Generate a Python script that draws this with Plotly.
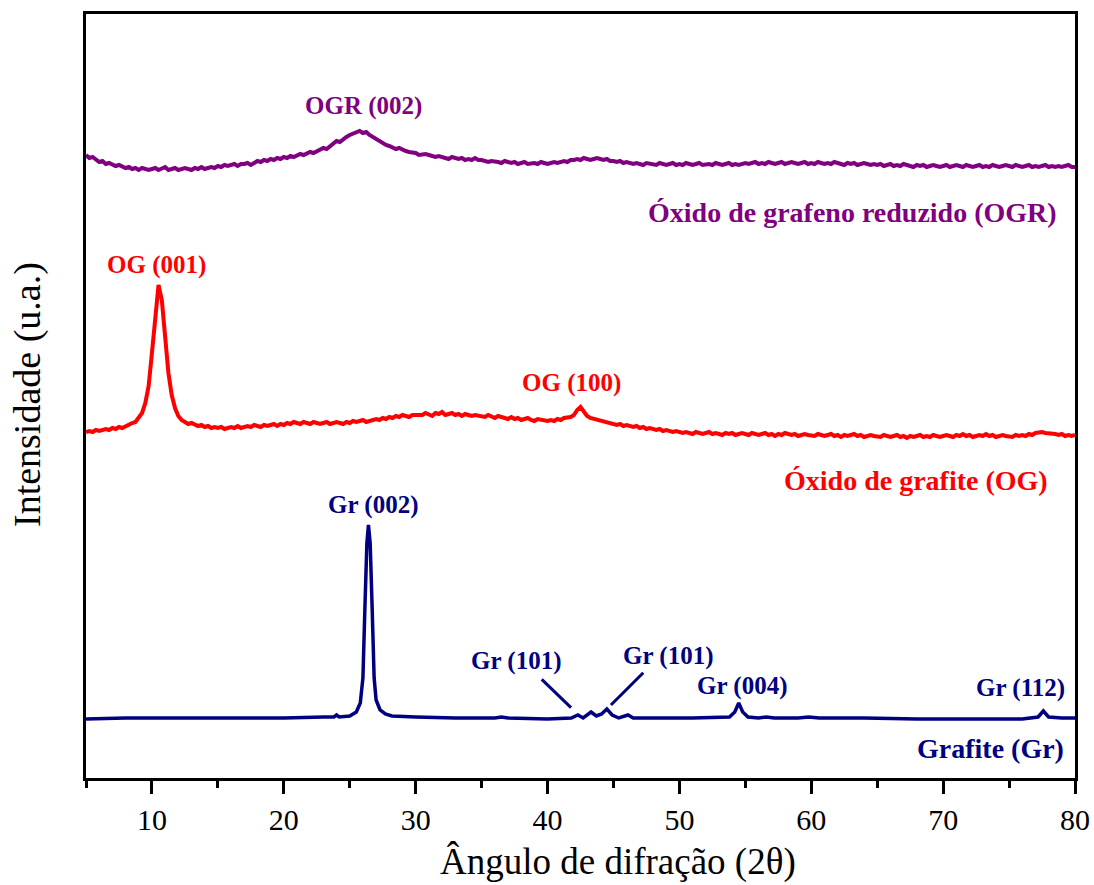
import numpy as np
import plotly.graph_objects as go

# 2θ sampling for the two oxide scans (0.25° steps, 5°–80°)
angle_grid = np.linspace(5, 80, 301)

# Reduced graphene oxide (OGR), offset intensities
ogr_intensity = [
    623, 620, 621, 618, 616, 617, 614, 615, 613, 612, 613, 611, 610, 611, 609, 610, 608, 610, 609, 608,
    609, 610, 608, 609, 611, 608, 609, 610, 608, 609, 610, 609, 608, 610, 609, 611, 609, 610, 611, 610,
    612, 611, 613, 612, 613, 614, 612, 614, 614, 615, 613, 615, 617, 616, 618, 617, 619, 618, 620, 619,
    621, 620, 622, 621, 623, 624, 623, 625, 626, 625, 627, 628, 630, 629, 632, 634, 637, 636, 639, 641,
    643, 644, 645, 647, 645, 646, 643, 641, 638, 637, 634, 633, 632, 630, 629, 630, 628, 627, 626, 626,
    625, 623, 624, 624, 623, 622, 621, 622, 621, 620, 619, 621, 620, 619, 620, 618, 619, 618, 620, 618,
    618, 617, 616, 617, 617, 616, 615, 617, 616, 615, 616, 614, 615, 616, 614, 615, 615, 614, 616, 615,
    614, 615, 616, 615, 616, 617, 616, 618, 618, 619, 618, 620, 619, 618, 619, 620, 619, 618, 619, 617,
    617, 616, 617, 615, 616, 615, 614, 615, 614, 613, 615, 614, 614, 613, 615, 614, 613, 614, 615, 613,
    614, 613, 615, 614, 613, 614, 615, 613, 614, 614, 613, 615, 614, 613, 614, 615, 613, 614, 613, 614,
    615, 614, 615, 616, 614, 615, 614, 616, 615, 614, 615, 616, 614, 615, 616, 615, 614, 615, 616, 614,
    615, 614, 616, 615, 614, 615, 614, 616, 615, 614, 613, 615, 614, 615, 613, 614, 615, 614, 613, 614,
    613, 614, 612, 613, 614, 612, 613, 612, 614, 613, 612, 611, 613, 612, 613, 611, 612, 613, 612, 611,
    612, 613, 611, 612, 613, 612, 611, 613, 612, 611, 612, 613, 611, 612, 611, 613, 612, 611, 612, 613,
    612, 611, 613, 612, 611, 612, 613, 611, 612, 611, 612, 613, 611, 612, 611, 612, 611, 612, 613, 611,
    611,
]

# Graphite oxide (OG), offset intensities
og_intensity = [
    346, 347, 346, 348, 347, 348, 349, 348, 350, 349, 351, 350, 352, 353, 355, 356, 360, 365, 375, 392,
    425, 462, 493, 478, 440, 405, 383, 370, 362, 358, 356, 354, 355, 353, 352, 353, 351, 352, 350, 351,
    350, 351, 349, 350, 351, 350, 352, 350, 351, 352, 351, 353, 352, 351, 353, 352, 353, 354, 352, 354,
    353, 355, 354, 356, 355, 354, 356, 355, 354, 356, 355, 354, 355, 356, 354, 355, 356, 355, 354, 356,
    355, 357, 356, 357, 358, 356, 357, 358, 359, 358, 360, 359, 361, 360, 362, 361, 363, 362, 361, 363,
    363, 364, 363, 365, 364, 362, 365, 364, 366, 363, 364, 365, 363, 364, 362, 364, 363, 362, 363, 362,
    362, 361, 363, 361, 360, 362, 361, 360, 359, 361, 359, 360, 358, 359, 360, 358, 357, 359, 358, 357,
    357, 358, 357, 359, 358, 360, 360, 361, 363, 368, 371, 366, 362, 360, 359, 358, 357, 356, 355, 355,
    354, 353, 354, 352, 353, 352, 351, 352, 350, 351, 349, 350, 349, 348, 349, 347, 348, 347, 346, 347,
    346, 345, 346, 345, 344, 346, 345, 344, 345, 346, 344, 345, 344, 343, 345, 344, 345, 343, 344, 345,
    344, 343, 345, 344, 343, 344, 345, 343, 344, 342, 344, 343, 345, 344, 343, 344, 342, 343, 344, 343,
    343, 342, 344, 343, 342, 343, 344, 342, 343, 341, 343, 342, 343, 344, 342, 343, 341, 342, 343, 342,
    342, 341, 343, 342, 341, 342, 343, 341, 342, 340, 342, 341, 342, 343, 341, 342, 341, 343, 342, 341,
    342, 343, 342, 341, 343, 342, 344, 342, 343, 341, 342, 343, 342, 344, 342, 343, 341, 342, 343, 342,
    342, 341, 343, 342, 343, 342, 344, 343, 345, 346, 346, 345, 345, 344, 344, 343, 344, 342, 343, 342,
    343,
]

# Graphite (Gr) scan
gr_angle = [
    5, 8, 12, 16, 20, 23, 23.8, 24.0, 24.2, 25.0, 25.5, 25.8, 26.0, 26.15, 26.3, 26.42, 26.55,
    26.7, 26.85, 27.0, 27.3, 27.7, 28.2, 30, 33, 36, 36.5, 37, 40, 41.8, 42.3, 42.7, 43.0, 43.3,
    43.7, 44.1, 44.5, 44.9, 45.4, 45.8, 46.1, 46.5, 48, 51, 53.8, 54.2, 54.5, 54.8, 55.2, 56,
    56.6, 57.2, 59, 59.8, 60.6, 64, 68, 72, 76, 77.2, 77.6, 78.0, 79, 80,
]
gr_intensity = [
    59, 60, 60, 60, 60, 61, 61, 63, 61, 62, 66, 75, 100, 170, 235, 253, 235,
    170, 100, 78, 68, 64, 62, 61, 60, 60, 61, 60, 59, 60, 63, 60, 63, 66,
    62, 64, 69, 63, 60, 62, 63, 60, 60, 60, 61, 66, 75, 66, 61, 60,
    61, 60, 60, 61, 60, 60, 59, 59, 59, 61, 67, 61, 60, 60,
]

# Peak and series labels: (text, 2θ, intensity, colour, size)
PURPLE, RED, NAVY = "#800080", "#FF0000", "#000080"
labels = [
    ("OGR (002)", 26.08, 672, PURPLE, 25),
    ("Óxido de grafeno reduzido (OGR)", 63.16, 566, PURPLE, 28),
    ("OG (001)", 10.31, 513, RED, 25),
    ("OG (100)", 41.85, 395, RED, 25),
    ("Óxido de grafite (OG)", 67.94, 298, RED, 28),
    ("Gr (002)", 26.77, 273, NAVY, 25),
    ("Gr (101)", 37.68, 117, NAVY, 25),
    ("Gr (101)", 49.21, 122, NAVY, 25),
    ("Gr (004)", 54.78, 92, NAVY, 25),
    ("Gr (112)", 75.9, 90, NAVY, 25),
    ("Grafite (Gr)", 73.59, 30, NAVY, 28),
]

# Leader lines pointing at the (101) reflections
leaders = [
    (39.56, 98.7, 41.78, 70.3),
    (47.26, 105.3, 44.81, 73.0),
]

fig = go.Figure()
fig.add_trace(go.Scatter(x=gr_angle, y=gr_intensity, mode="lines",
                         line=dict(color=NAVY, width=3.5), showlegend=False))
fig.add_trace(go.Scatter(x=angle_grid, y=og_intensity, mode="lines",
                         line=dict(color=RED, width=4), showlegend=False))
fig.add_trace(go.Scatter(x=angle_grid, y=ogr_intensity, mode="lines",
                         line=dict(color=PURPLE, width=4), showlegend=False))

for text, x, y, color, size in labels:
    fig.add_annotation(x=x, y=y, text=f"<b>{text}</b>", showarrow=False,
                       font=dict(family="Liberation Serif", size=size, color=color))

for x0, y0, x1, y1 in leaders:
    fig.add_shape(type="line", x0=x0, y0=y0, x1=x1, y1=y1,
                  line=dict(color=NAVY, width=3))

# Axis titles, positioned relative to the plotting area (86..1075 x 14..778 px)
PL, PR, PT, PB = 86, 1075, 14, 778


def to_paper(px, py):
    return (px - PL) / (PR - PL), (PB - py) / (PB - PT)


tx, ty = to_paper(618, 862)
fig.add_annotation(x=tx, y=ty, xref="paper", yref="paper",
                   text="Ângulo de difração (2θ)", showarrow=False,
                   xanchor="center", yanchor="middle",
                   font=dict(family="Liberation Serif", size=37, color="black"))
tx, ty = to_paper(28, 395)
fig.add_annotation(x=tx, y=ty, xref="paper", yref="paper",
                   text="Intensidade (u.a.)", showarrow=False, textangle=-90,
                   xanchor="center", yanchor="middle",
                   font=dict(family="Liberation Serif", size=38, color="black"))

fig.update_layout(
    width=1094, height=885,
    margin=dict(l=PL, r=1094 - PR, t=PT, b=885 - PB, autoexpand=False),
    plot_bgcolor="white", paper_bgcolor="white",
    font=dict(family="Liberation Serif", color="black"),
)
fig.update_xaxes(
    range=[5, 80], showgrid=False, zeroline=False, automargin=False,
    showline=True, linecolor="black", linewidth=2.5, mirror=True,
    ticks="outside", ticklen=13, tickwidth=2.5, tickcolor="black",
    tick0=0, dtick=10, tickfont=dict(size=30),
    minor=dict(dtick=5, ticks="outside", ticklen=7, tickwidth=2.5, tickcolor="black"),
)
fig.update_yaxes(
    range=[0, 764], showgrid=False, zeroline=False, automargin=False,
    showline=True, linecolor="black", linewidth=2.5, mirror=True,
    ticks="", showticklabels=False,
)

fig.write_html("out.html")
